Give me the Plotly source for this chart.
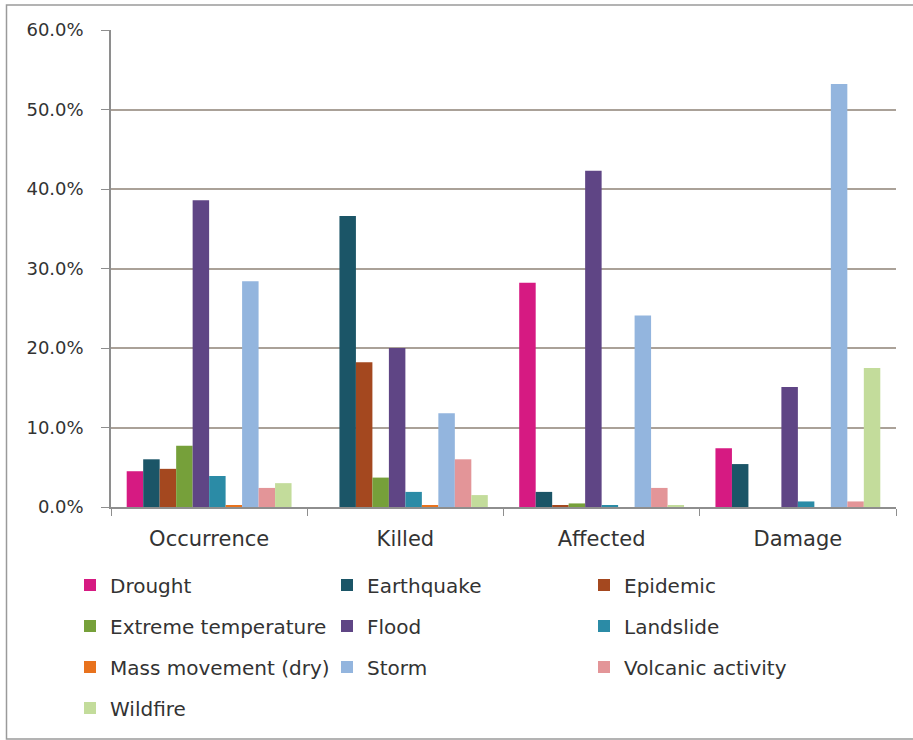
import plotly.graph_objects as go

categories = ["Occurrence", "Killed", "Affected", "Damage"]
series_names = ["Drought", "Earthquake", "Epidemic", "Extreme temperature", "Flood",
                "Landslide", "Mass movement (dry)", "Storm", "Volcanic activity", "Wildfire"]
drought = [0.045, 0.0, 0.282, 0.074]
earthquake = [0.060, 0.366, 0.019, 0.054]
epidemic = [0.048, 0.182, 0.0025, 0.0]
extreme_temp = [0.077, 0.037, 0.0045, 0.0]
flood = [0.386, 0.200, 0.423, 0.151]
landslide = [0.039, 0.019, 0.002, 0.007]
mass_movement = [0.0025, 0.0025, 0.0, 0.0]
storm = [0.284, 0.118, 0.241, 0.532]
volcanic = [0.024, 0.060, 0.024, 0.007]
wildfire = [0.030, 0.015, 0.0015, 0.175]
values = [drought, earthquake, epidemic, extreme_temp, flood,
          landslide, mass_movement, storm, volcanic, wildfire]
colors = ["#d61a82", "#1b5567", "#a4481f", "#76a03a", "#5f4585",
          "#2b8ba6", "#e8721d", "#93b5de", "#e39598", "#c3dc9b"]

L, R, T, B = 111, 17, 30, 233
W, H = 913, 740
pw, ph = W - L - R, H - T - B

def px_x(x):
    return (x - L) / pw

def px_y(y):
    return (H - B - y) / ph

legend_ids = ["legend", "legend2", "legend3", "legend4"]
row_y = [585, 626, 667, 708]

fig = go.Figure()
for i, (name, vals, col) in enumerate(zip(series_names, values, colors)):
    fig.add_trace(go.Bar(name=name, x=categories, y=vals, marker_color=col,
                         marker_line_width=0, legend=legend_ids[i // 3]))

legend_font = dict(size=20, family="DejaVu Sans", color="#333333")
leg_common = dict(orientation="h", x=px_x(70), xanchor="left", yanchor="middle",
                  entrywidth=212, font=legend_font, itemwidth=30,
                  bgcolor="rgba(0,0,0,0)")
legends = {}
for lid, yy in zip(legend_ids, row_y):
    legends[lid] = dict(leg_common, y=px_y(yy))

fig.update_layout(
    width=W, height=H,
    margin=dict(l=L, r=R, t=T, b=B),
    paper_bgcolor="white", plot_bgcolor="white",
    barmode="group", bargap=0.16, bargroupgap=0,
    font=dict(family="DejaVu Sans", color="#333333"),
    showlegend=True,
    shapes=[dict(type="rect", xref="paper", yref="paper",
                 x0=px_x(6.5), x1=px_x(915), y0=px_y(739), y1=px_y(5),
                 line=dict(color="#9a9a9a", width=1.5), fillcolor="rgba(0,0,0,0)",
                 layer="below")],
    **legends,
)
fig.update_yaxes(range=[0, 0.6], dtick=0.1, tickformat=".1%",
                 showgrid=True, gridcolor="#aaa198", gridwidth=1.5,
                 showline=True, linecolor="#8e8e8e", linewidth=1.5,
                 ticks="outside", ticklen=8, tickcolor="#8e8e8e",
                 ticklabelstandoff=14,
                 tickfont=dict(size=18, family="DejaVu Sans", color="#333333"),
                 zeroline=False)
fig.update_xaxes(showline=True, linecolor="#8e8e8e", linewidth=1.5,
                 ticks="outside", tickson="boundaries", ticklen=7, tickcolor="#8e8e8e",
                 ticklabelstandoff=12,
                 tickfont=dict(size=21, family="DejaVu Sans", color="#333333"))

fig.write_html("out.html")
